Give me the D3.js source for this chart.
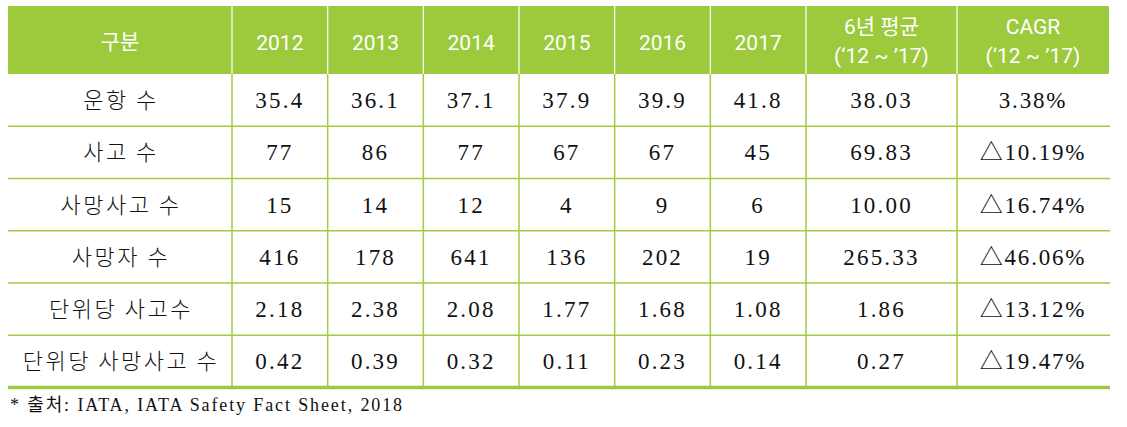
<!DOCTYPE html>
<html><head><meta charset="utf-8">
<script src="https://cdn.jsdelivr.net/npm/d3@7/dist/d3.min.js"></script>
<style>
html,body{margin:0;padding:0;background:#fff;}
svg{display:block;}
</style></head>
<body>
<svg id="chart" width="1127" height="427"></svg>
<script>
const firstHeader = "구분";
const years = ["2012","2013","2014","2015","2016","2017"];
const avgHeader = ["6년 평균","(‘12 ~ ’17)"];
const cagrHeader = ["CAGR","(‘12 ~ ’17)"];
const categories = ["운항 수","사고 수","사망사고 수","사망자 수","단위당 사고수","단위당 사망사고 수"];
const flights      = [35.4, 36.1, 37.1, 37.9, 39.9, 41.8];
const accidents    = [77, 86, 77, 67, 67, 45];
const fatalAcc     = [15, 14, 12, 4, 9, 6];
const fatalities   = [416, 178, 641, 136, 202, 19];
const accRate      = [2.18, 2.38, 2.08, 1.77, 1.68, 1.08];
const fatalAccRate = [0.42, 0.39, 0.32, 0.11, 0.23, 0.14];
const sixYearAvg   = [38.03, 69.83, 10.00, 265.33, 1.86, 0.27];
const cagr         = [3.38, -10.19, -16.74, -46.06, -13.12, -19.47];
const decimals     = [1, 0, 0, 0, 2, 2];
const footnote = "* 출처: IATA, IATA Safety Fact Sheet, 2018";

(function(){
const series = [flights, accidents, fatalAcc, fatalities, accRate, fatalAccRate];

const svg = d3.select("#chart");
const green = "#9dca3c";
const lineGreen = "#a2cb45";

const xL = 8, xR = 1109, yT = 6, headerBottom = 74, yB = 387.5;
const col1 = 232, yearEnd = 806, avgEnd = 957;

const xYear = d3.scaleBand().domain(years).range([col1, yearEnd]).padding(0);
const yRow = d3.scaleBand().domain(categories).range([headerBottom, yB]).padding(0);

svg.append("rect").attr("x", xL).attr("y", yT).attr("width", xR-xL).attr("height", headerBottom-yT).attr("fill", green);

const colEdges = [col1, ...years.slice(1).map(y => xYear(y)), yearEnd, avgEnd];

svg.append("g").selectAll("line").data(colEdges).join("line")
  .attr("x1", d=>d).attr("x2", d=>d).attr("y1", yT).attr("y2", headerBottom)
  .attr("stroke", "#fff").attr("stroke-width", 1.2);

svg.append("g").selectAll("line").data(colEdges).join("line")
  .attr("x1", d=>d).attr("x2", d=>d).attr("y1", headerBottom).attr("y2", yB)
  .attr("stroke", lineGreen).attr("stroke-width", 1.5);

svg.append("g").selectAll("line").data(categories.slice(1)).join("line")
  .attr("x1", xL).attr("x2", xR+1).attr("y1", d=>yRow(d)).attr("y2", d=>yRow(d))
  .attr("stroke", lineGreen).attr("stroke-width", 1.5);

svg.append("line").attr("x1", xL).attr("x2", xR+1).attr("y1", yB).attr("y2", yB)
  .attr("stroke", green).attr("stroke-width", 3.5);

const hfont = "Roboto, 'Noto Sans CJK KR', sans-serif";
const hg = svg.append("g").attr("fill", "#fff").attr("font-family", hfont).attr("font-size", 21).attr("text-anchor", "middle");
hg.append("text").attr("x", (xL+col1)/2).attr("y", 48.5).text(firstHeader);
hg.selectAll("text.yr").data(years).join("text").attr("class","yr")
  .attr("x", d=>xYear(d)+xYear.bandwidth()/2).attr("y", 49.5).text(d=>d);
[[avgHeader, (yearEnd+avgEnd)/2],[cagrHeader,(avgEnd+xR)/2]].forEach(([lines,cx])=>{
  lines.forEach((t,i)=>{
    hg.append("text").attr("x", cx).attr("y", 34 + i*29).text(t);
  });
});

const bfont = "'Liberation Serif', 'Noto Sans CJK KR', serif";
const bg = svg.append("g").attr("fill", "#111").attr("font-family", bfont).attr("font-size", 23).attr("text-anchor", "middle");
const rowY = d => yRow(d) + yRow.bandwidth()/2 + 8;

bg.selectAll("text.cat").data(categories).join("text").attr("class","cat")
  .attr("x", (xL+col1)/2 + 1).attr("y", rowY)
  .attr("font-family", "'Noto Sans CJK KR', sans-serif").attr("font-size", 22)
  .attr("font-weight", 300)
  .attr("letter-spacing", 2.5)
  .text(d=>d);

categories.forEach((cat, r) => {
  const fmt = d3.format("." + decimals[r] + "f");
  bg.selectAll(null).data(series[r]).join("text")
    .attr("x", (d,i)=>xYear(years[i]) + xYear.bandwidth()/2)
    .attr("y", rowY(cat))
    .attr("letter-spacing", 2.2)
    .text(d=>fmt(d));
  bg.append("text").attr("x", (yearEnd+avgEnd)/2).attr("y", rowY(cat)).attr("letter-spacing", 2.2)
    .text(d3.format(".2f")(sixYearAvg[r]));
  const c = cagr[r];
  bg.append("text").attr("x", (avgEnd+xR)/2).attr("y", rowY(cat)).attr("letter-spacing", 1.8)
    .text((c < 0 ? "△" : "") + d3.format(".2f")(Math.abs(c)) + "%");
});

svg.append("text").attr("x", 10).attr("y", 411)
  .attr("font-family", bfont).attr("font-size", 18).attr("fill", "#111")
  .attr("textLength", 392).attr("lengthAdjust", "spacing")
  .text(footnote);
})();
</script>
</body></html>
